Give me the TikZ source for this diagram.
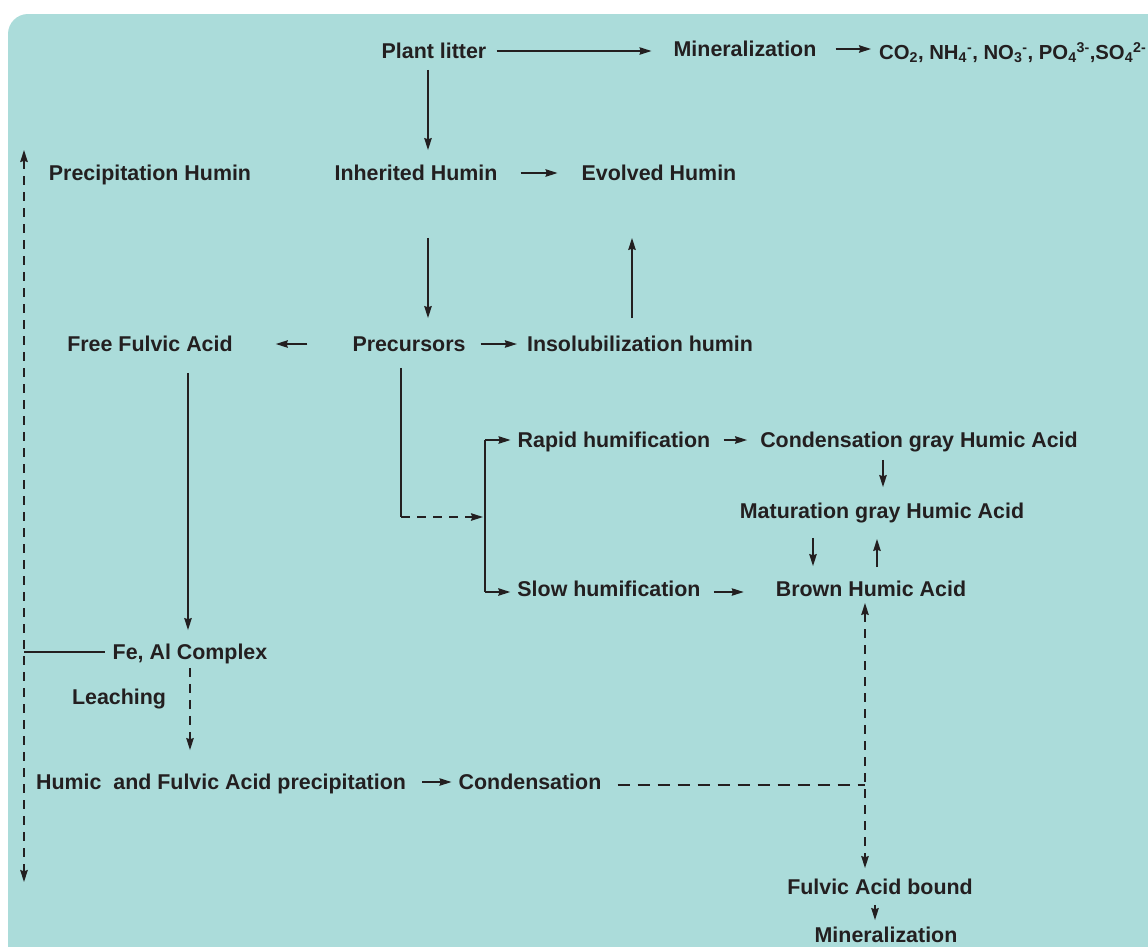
\documentclass[tikz,border=0pt]{standalone}
\usepackage{fontspec}
\setmainfont{Liberation Sans}
\usetikzlibrary{arrows.meta}
\definecolor{bgc}{HTML}{ABDCDA}
\definecolor{txt}{HTML}{231F20}
\begin{document}
\begin{tikzpicture}[x=1pt,y=-1pt,
  >={Stealth[length=12pt,width=7.5pt,inset=1.2pt]},
  lbl/.style={font=\fontsize{21.4}{24}\selectfont\bfseries, text=txt, inner sep=0pt, text height=15.5pt, text depth=0pt},
  ln/.style={draw=txt, line width=1.3pt},
  arr/.style={ln, ->},
  dsh/.style={dash pattern=on 9pt off 7pt},
  ldsh/.style={dash pattern=on 12pt off 8pt}]
\path[use as bounding box] (0,0) rectangle (1148,946);
\clip (0,0) rectangle (1148,946);
\fill[white] (0,0) rectangle (1148,946);
\fill[bgc, rounded corners=20pt] (8,14) rectangle (1220,1020);

% nodes
\node[lbl] (pl) at (434,51) {Plant litter};
\node[lbl] (min1) at (745,49) {Mineralization};
\node[lbl, anchor=west, font=\fontsize{20.3}{24}\selectfont\bfseries] (co2) at (879,52) {CO\textsubscript{2}, NH\textsubscript{4}\textsuperscript{-}, NO\textsubscript{3}\textsuperscript{-}, PO\textsubscript{4}\textsuperscript{3-},SO\textsubscript{4}\textsuperscript{2-}};
\node[lbl] (ph) at (150,173) {Precipitation Humin};
\node[lbl] (ih) at (416,173) {Inherited Humin};
\node[lbl] (eh) at (659,173) {Evolved Humin};
\node[lbl] (ffa) at (150,344) {Free Fulvic Acid};
\node[lbl] (pre) at (409,344) {Precursors};
\node[lbl] (ins) at (640,344) {Insolubilization humin};
\node[lbl] (rh) at (614,440) {Rapid humification};
\node[lbl] (cg) at (919,440) {Condensation gray Humic Acid};
\node[lbl] (mg) at (882,511) {Maturation gray Humic Acid};
\node[lbl] (sh) at (609,589) {Slow humification};
\node[lbl] (bh) at (871,589) {Brown Humic Acid};
\node[lbl] (fe) at (190,652) {Fe, Al Complex};
\node[lbl] (lea) at (119,697) {Leaching};
\node[lbl] (hfp) at (221,782) {Humic \ and Fulvic Acid precipitation};
\node[lbl] (con) at (530,782) {Condensation};
\node[lbl] (fab) at (880,887) {Fulvic Acid bound};
\node[lbl] (min2) at (886,935) {Mineralization};

% helper coordinates
\coordinate (Ltop) at (24,150);
\coordinate (Lbot) at (24,882);
\coordinate (B) at (485,517);
\coordinate (shw) at ([yshift=-3pt]sh.west);
\coordinate (she) at ([yshift=-3pt]sh.east);
\coordinate (J) at ([xshift=-6pt]bh.south);
\coordinate (cone) at ([yshift=-3pt]con.east);

% connectors
\draw[arr, shorten <=10pt, shorten >=22pt] (pl.east) -- (pl.east -| min1.west);
\draw[arr, shorten <=19pt, shorten >=8pt] (min1.east) -- (min1.east -| co2.west);
\draw[arr, shorten <=11pt, shorten >=15pt] ([xshift=-6pt]pl.south) -- ([xshift=-6pt]pl.south |- ih.north);
\draw[arr, shorten <=23pt, shorten >=24pt] (ih.east) -- (ih.east -| eh.west);
\draw[arr, shorten <=57pt, shorten >=18pt] ([xshift=12pt]ih.south) -- ([xshift=12pt]ih.south |- pre.north);
\draw[arr, shorten <=18pt, shorten >=57pt] ([xshift=-8pt]ins.north) -- ([xshift=-8pt]ins.north |- eh.south);
\draw[arr, shorten <=45pt, shorten >=43pt] (pre.west) -- (pre.west -| ffa.east);
\draw[arr, shorten <=15pt, shorten >=10pt] (pre.east) -- (pre.east -| ins.west);
\draw[arr, shorten <=21pt, shorten >=14pt] ([xshift=38pt]ffa.south) -- ([xshift=38pt]ffa.south |- fe.north);
\draw[arr, dsh, shorten <=8pt, shorten >=24pt] (fe.south) -- (fe.south |- hfp.north);
\draw[arr, shorten <=16pt, shorten >=7pt] (hfp.east) -- (hfp.east -| con.west);
\draw[ln, ldsh, shorten <=16pt] (cone) -- (cone -| J);
\draw[ln, dsh, <->, shorten <=6pt, shorten >=11pt] (J) -- (J |- fab.north);
\draw[arr, shorten <=10pt, shorten >=7pt] ([xshift=-5pt]fab.south) -- ([xshift=-5pt]fab.south |- min2.north);
\draw[ln, dsh, <->] (Ltop) -- (Lbot);
\draw[ln, shorten <=8pt] (fe.west) -- (fe.west -| Ltop);
\draw[ln, shorten <=16pt] ([xshift=-8pt]pre.south) -- ([xshift=-8pt]pre.south |- B);
\draw[ln, dsh, ->, shorten >=2pt] ([xshift=-8pt]pre.south |- B) -- (B);
\draw[ln] (rh.west -| B) -- (shw -| B);
\draw[arr, shorten >=7pt] (rh.west -| B) -- (rh.west);
\draw[arr, shorten >=7pt] (shw -| B) -- (shw);
\draw[arr, shorten <=13pt, shorten >=13pt] (rh.east) -- (rh.east -| cg.west);
\draw[arr, shorten <=12pt, shorten >=16pt] ([xshift=-36pt]cg.south) -- ([xshift=-36pt]cg.south |- mg.north);
\draw[arr, shorten <=19pt, shorten >=15pt] ([xshift=-69pt]mg.south) -- ([xshift=-69pt]mg.south |- bh.north);
\draw[arr, shorten <=14pt, shorten >=20pt] ([xshift=6pt]bh.north) -- ([xshift=6pt]bh.north |- mg.south);
\draw[arr, shorten <=13pt, shorten >=32pt] (she) -- (she -| bh.west);
\end{tikzpicture}
\end{document}
